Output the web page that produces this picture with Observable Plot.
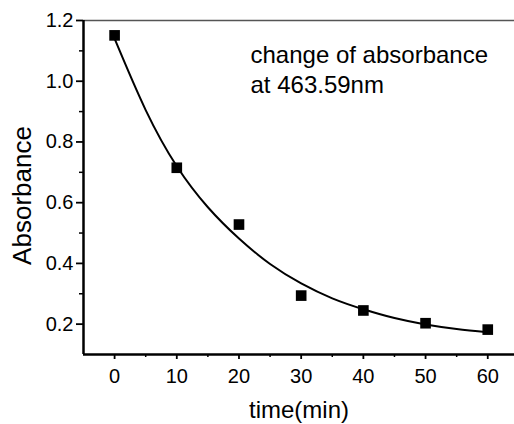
<!DOCTYPE html>
<html>
<head>
<meta charset="utf-8">
<script src="https://cdn.jsdelivr.net/npm/d3@7"></script>
<script src="https://cdn.jsdelivr.net/npm/@observablehq/plot@0.6"></script>
<style>
  html, body { margin: 0; padding: 0; background: #fff; }
</style>
</head>
<body>
<div id="chart"></div>
<script>
// Measured points
const times = [0, 10, 20, 30, 40, 50, 60];
const absorbance = [1.151, 0.715, 0.528, 0.294, 0.245, 0.203, 0.182];

// Fitted curve
const curveTimes = [0, 5, 10, 15, 20, 25, 30, 35, 40, 45, 50, 55, 60];
const curveValues = [1.14, 0.905, 0.72, 0.585, 0.482, 0.398, 0.334, 0.285, 0.249, 0.22, 0.199, 0.184, 0.173];

const xTicks = [0, 10, 20, 30, 40, 50, 60];
const xMinor = [5, 15, 25, 35, 45, 55];
const yTicks = [0.2, 0.4, 0.6, 0.8, 1.0, 1.2];
const yMinor = [0.3, 0.5, 0.7, 0.9, 1.1];

const xLabel = "time(min)";
const yLabel = "Absorbance";
const note = "change of absorbance\nat 463.59nm";

const points = times.map((t, i) => ({t, a: absorbance[i]}));
const fit = curveTimes.map((t, i) => ({t, a: curveValues[i]}));

const chart = Plot.plot({
  width: 514,
  height: 424,
  marginLeft: 83,
  marginRight: 0,
  marginTop: 20,
  marginBottom: 70,
  style: {fontFamily: "'Liberation Sans', Arial, sans-serif", color: "#000", background: "#fff"},
  x: {domain: [-5, 64.3]},
  y: {domain: [0.1, 1.2]},
  marks: [
    Plot.axisX({ticks: xTicks, tickSize: 5, tickPadding: 9, fontSize: 20, label: null, strokeWidth: 1.8}),
    Plot.axisX({ticks: xMinor, tickSize: 3, tickFormat: () => "", label: null, strokeWidth: 1.5}),
    Plot.axisY({ticks: yTicks, tickSize: 7, tickPadding: 3, fontSize: 20, tickFormat: d3.format(".1f"), label: null, strokeWidth: 1.8}),
    Plot.axisY({ticks: yMinor, tickSize: 4, tickFormat: () => "", label: null, strokeWidth: 1.5}),
    Plot.ruleY([1.2], {stroke: "#555", strokeWidth: 1.5}),
    Plot.ruleX([-5], {stroke: "#000", strokeWidth: 2.5}),
    Plot.ruleY([0.1], {stroke: "#000", strokeWidth: 2.5}),
    Plot.line(fit, {x: "t", y: "a", curve: "natural", stroke: "#000", strokeWidth: 2}),
    Plot.dot(points, {x: "t", y: "a", symbol: "square", r: 6, fill: "#000", stroke: "none"}),
    Plot.text([xLabel], {frameAnchor: "bottom", textAnchor: "middle", dy: 63, fontSize: 24, fill: "#000"}),
    Plot.text([yLabel], {frameAnchor: "left", textAnchor: "middle", lineAnchor: "middle", dx: -61, dy: 8, rotate: -90, fontSize: 26, fill: "#000"}),
    Plot.text([note], {frameAnchor: "top-left", dx: 167, dy: 21, fontSize: 24, lineHeight: 1.25, textAnchor: "start", lineAnchor: "top", fill: "#000"})
  ]
});
document.getElementById("chart").appendChild(chart);
</script>
</body>
</html>
